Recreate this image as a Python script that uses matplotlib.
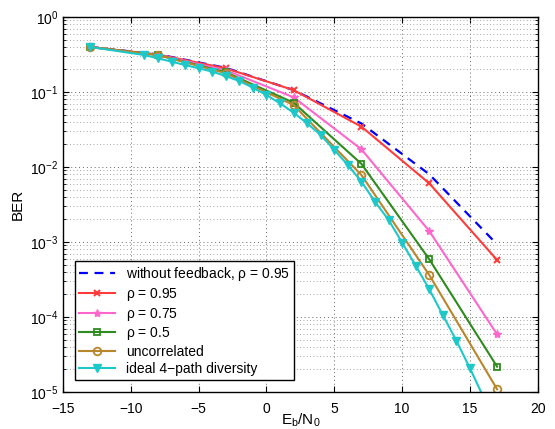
import numpy as np
import matplotlib
matplotlib.use('Agg')
import matplotlib.pyplot as plt
from matplotlib.ticker import LogLocator, NullFormatter

plt.rcParams['font.family'] = ['Liberation Sans', 'DejaVu Sans']
plt.rcParams['mathtext.fontset'] = 'custom'
plt.rcParams['mathtext.rm'] = 'Liberation Sans'
plt.rcParams['mathtext.it'] = 'Liberation Sans'

# Eb/N0 points (dB)
snr = [-13, -8, -3, 2, 7, 12, 17]
snr_ideal = [-13, -9, -8, -7, -6, -5, -4, -3, -2, -1, 0, 1, 2, 3, 4, 5,
             6, 7, 8, 9, 10, 11, 12, 13, 14, 15, 16]

ber_nofb = [0.398, 0.318, 0.210, 0.106, 0.038, 0.0080, 0.00093]
ber_r95 = [0.398, 0.316, 0.207, 0.106, 0.0345, 0.00605, 0.000575]
ber_r75 = [0.398, 0.313, 0.195, 0.085, 0.0172, 0.0014, 5.87e-5]
ber_r50 = [0.398, 0.311, 0.183, 0.072, 0.011, 0.000588, 2.18e-5]
ber_unc = [0.398, 0.311, 0.178, 0.067, 0.00782, 0.000363, 1.09e-5]
ber_ideal = [0.398, 0.311, 0.281, 0.254, 0.229, 0.207, 0.187, 0.163, 0.140,
             0.114, 0.091, 0.0706, 0.053, 0.0382, 0.0267, 0.01686, 0.01064,
             0.00637, 0.00345, 0.00197, 0.00098, 0.000483, 0.000234,
             0.000106, 4.83e-5, 2.07e-5, 8.5e-6]

fig = plt.figure(figsize=(5.55, 4.29), dpi=100)
ax = fig.add_axes([0.1135, 0.0862, 0.8555, 0.8742])

ax.semilogy(snr, ber_nofb, '--', color='#0000ff', lw=1.6, dashes=(4, 3),
            label=r'without feedback, $\rho$ = 0.95')
ax.semilogy(snr, ber_r95, '-x', color='#ff3b3b', lw=1.5, ms=5, mew=1.5,
            label=r'$\rho$ = 0.95')
ax.semilogy(snr, ber_r75, '-*', color='#ff66cc', lw=1.5, ms=6, mew=1.0,
            label=r'$\rho$ = 0.75')
ax.semilogy(snr, ber_r50, '-s', color='#2e8b1e', lw=1.5, ms=5, mfc='none',
            mew=1.3, label=r'$\rho$ = 0.5')
ax.semilogy(snr, ber_unc, '-o', color='#b8862b', lw=1.5, ms=5.5, mfc='none',
            mew=1.3, label='uncorrelated')
ax.semilogy(snr_ideal, ber_ideal, '-v', color='#1ec8c8', lw=1.5, ms=6,
            label='ideal 4\u2212path diversity')

ax.set_xlim(-15, 20)
ax.set_ylim(1e-5, 1)
ax.set_xticks(np.arange(-15, 21, 5))
ax.set_xticklabels(['\u221215', '\u221210', '\u22125', '0', '5', '10', '15', '20'])
ax.yaxis.set_major_locator(LogLocator(base=10, numticks=10))
ax.yaxis.set_minor_locator(LogLocator(base=10, subs=np.arange(2, 10), numticks=20))
ax.yaxis.set_minor_formatter(NullFormatter())

ax.grid(True, which='major', ls=(0, (1, 3)), color='#666666', lw=0.7)
ax.grid(True, which='minor', axis='y', ls=(0, (1, 3)), color='#888888', lw=0.6)
ax.tick_params(which='both', direction='in', top=True, right=True, labelsize=10)
ax.tick_params(which='major', length=4)
ax.tick_params(axis='x', which='major', pad=7)
ax.tick_params(which='minor', length=2)
for s in ax.spines.values():
    s.set_linewidth(1.0)

ax.set_xlabel(r'E$_\mathrm{b}$/N$_\mathrm{0}$', fontsize=11, labelpad=-3)
ax.set_ylabel('BER', fontsize=11, labelpad=4)

leg = ax.legend(loc='lower left', bbox_to_anchor=(0.025, 0.032), fontsize=10,
                fancybox=False, framealpha=1, edgecolor='black',
                handlelength=2.6, borderpad=0.3, labelspacing=0.2,
                handletextpad=0.8, borderaxespad=0)
leg.get_frame().set_linewidth(1.0)

fig.savefig('out.png', dpi=100)
